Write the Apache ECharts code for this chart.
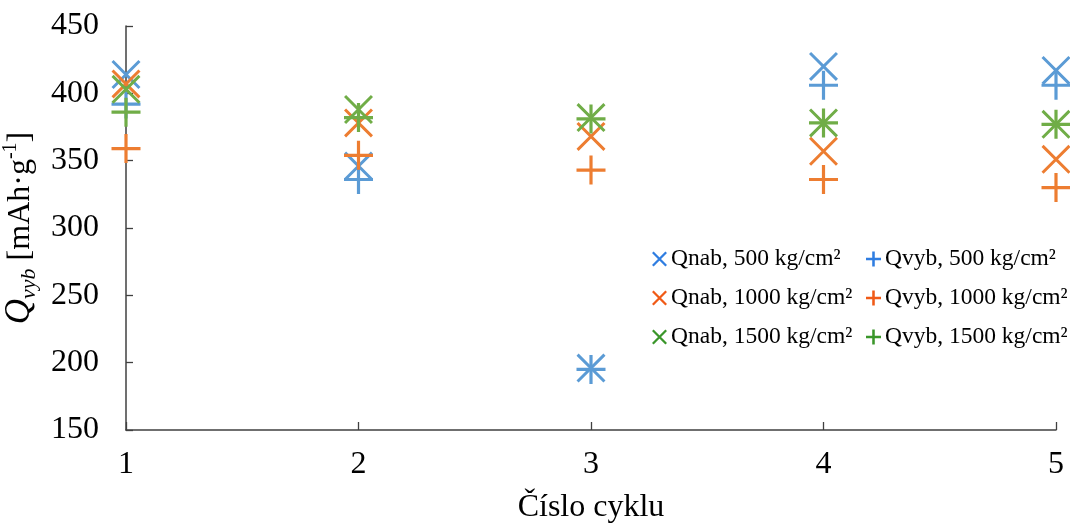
<!DOCTYPE html>
<html>
<head>
<meta charset="utf-8">
<script src="https://cdn.jsdelivr.net/npm/echarts@6/dist/echarts.min.js"></script>
<style>
  html, body { margin: 0; padding: 0; background: #fff; }
  #chart { width: 1070px; height: 526px; }
</style>
</head>
<body>
<div id="chart"></div>
<script>
// Cycle numbers on the x axis
const cycles = [1, 2, 3, 4, 5];
const yTicks = [150, 200, 250, 300, 350, 400, 450];

// Charge (Qnab) and discharge (Qvyb) capacities, mAh/g, per pressing pressure
const qnab500  = [414, 346, 196, 420, 417];
const qvyb500  = [392, 336, 195, 406, 406];
const qnab1000 = [407, 378, 368, 357, 351];
const qvyb1000 = [359, 354, 343, 336, 330];
const qnab1500 = [403, 388, 382, 378, 377];
const qvyb1500 = [386, 382, 381, 378, 377];

const names = {
  nab500: 'Qnab, 500 kg/cm²',
  vyb500: 'Qvyb, 500 kg/cm²',
  nab1000: 'Qnab, 1000 kg/cm²',
  vyb1000: 'Qvyb, 1000 kg/cm²',
  nab1500: 'Qnab, 1500 kg/cm²',
  vyb1500: 'Qvyb, 1500 kg/cm²'
};

// Thick "x" and "+" outlines as filled polygons
function crossPath(t) {
  const d = t / (2 * Math.SQRT2);
  const a = 100 + d, b = 100 - d;
  return 'path://M' + d + ',' + (-d) + 'L' + a + ',' + b + 'L' + b + ',' + a + 'L' + (-d) + ',' + d + 'Z' +
         'M' + a + ',' + d + 'L' + d + ',' + a + 'L' + (-d) + ',' + b + 'L' + b + ',' + (-d) + 'Z';
}
function plusPath(t) {
  const p = 50 - t / 2, q = 50 + t / 2;
  return 'path://M' + p + ',0H' + q + 'V' + p + 'H100V' + q + 'H' + q + 'V100H' + p + 'V' + q + 'H0V' + p + 'H' + p + 'Z';
}
const X_MARK = crossPath(11);
const P_MARK = plusPath(11);
const X_ICON = crossPath(17);
const P_ICON = plusPath(17);

const plotColors = { b: '#5B9BD5', o: '#ED7D31', g: '#70AD47' };
const legendColors = { b: '#2f7de1', o: '#f05a16', g: '#3a962a' };

function pts(vals) { return cycles.map((c, i) => [c, vals[i]]); }

function mk(name, vals, symbol, color) {
  return {
    name: name,
    type: 'scatter',
    data: pts(vals),
    symbol: symbol,
    symbolSize: 29,
    clip: false,
    itemStyle: { color: color, opacity: 1 },
    emphasis: { disabled: true },
    silent: true
  };
}

const serif = '"Liberation Serif", "Times New Roman", serif';

const chart = echarts.init(document.getElementById('chart'), null, { renderer: 'canvas' });

const legendBase = {
  orient: 'vertical',
  top: 247,
  itemWidth: 15,
  itemHeight: 15,
  itemGap: 15,
  padding: 0,
  selectedMode: false,
  textStyle: { fontFamily: serif, fontSize: 23.5, color: '#000', lineHeight: 22, padding: [0, 0, 0, -1] }
};

chart.setOption({
  animation: false,
  backgroundColor: '#fff',
  grid: { left: 126, right: 14, top: 26, bottom: 96, outerBoundsMode: 'none', containLabel: false },
  legend: [
    Object.assign({}, legendBase, {
      left: 652,
      data: [
        { name: names.nab500, icon: X_ICON, itemStyle: { color: legendColors.b } },
        { name: names.nab1000, icon: X_ICON, itemStyle: { color: legendColors.o } },
        { name: names.nab1500, icon: X_ICON, itemStyle: { color: legendColors.g } }
      ]
    }),
    Object.assign({}, legendBase, {
      left: 866,
      data: [
        { name: names.vyb500, icon: P_ICON, itemStyle: { color: legendColors.b } },
        { name: names.vyb1000, icon: P_ICON, itemStyle: { color: legendColors.o } },
        { name: names.vyb1500, icon: P_ICON, itemStyle: { color: legendColors.g } }
      ]
    })
  ],
  xAxis: {
    type: 'value',
    min: cycles[0],
    max: cycles[cycles.length - 1],
    interval: 1,
    name: 'Číslo cyklu',
    nameLocation: 'middle',
    nameGap: 62,
    nameTextStyle: { fontFamily: serif, fontSize: 32, color: '#000' },
    axisLine: { show: true, lineStyle: { color: '#404040', width: 1.5 } },
    axisTick: { show: true, inside: true, length: 8, lineStyle: { color: '#404040', width: 1.3 } },
    axisLabel: { fontFamily: serif, fontSize: 32, color: '#000', margin: 19 },
    splitLine: { show: false }
  },
  yAxis: {
    type: 'value',
    min: yTicks[0],
    max: yTicks[yTicks.length - 1],
    interval: yTicks[1] - yTicks[0],
    name: '{q|Q}{sub|vyb}{n| [mAh·g}{sup|-1}{n|]}',
    nameLocation: 'middle',
    nameGap: 80,
    nameTextStyle: {
      fontFamily: serif,
      color: '#000',
      rich: {
        q: { fontFamily: serif, fontStyle: 'italic', fontSize: 35, color: '#000' },
        sub: { fontFamily: serif, fontStyle: 'italic', fontSize: 22, color: '#000', padding: [18, 0, 0, 0] },
        n: { fontFamily: serif, fontSize: 32, color: '#000' },
        sup: { fontFamily: serif, fontSize: 20, color: '#000', padding: [0, 0, 18, 0] }
      }
    },
    axisLine: { show: true, lineStyle: { color: '#404040', width: 1.5 } },
    axisTick: { show: true, inside: true, length: 7, lineStyle: { color: '#404040', width: 1.3 } },
    axisLabel: { fontFamily: serif, fontSize: 32, color: '#000', margin: 27 },
    splitLine: { show: false }
  },
  series: [
    mk(names.nab500, qnab500, X_MARK, plotColors.b),
    mk(names.vyb500, qvyb500, P_MARK, plotColors.b),
    mk(names.nab1000, qnab1000, X_MARK, plotColors.o),
    mk(names.vyb1000, qvyb1000, P_MARK, plotColors.o),
    mk(names.nab1500, qnab1500, X_MARK, plotColors.g),
    mk(names.vyb1500, qvyb1500, P_MARK, plotColors.g)
  ]
});
</script>
</body>
</html>
